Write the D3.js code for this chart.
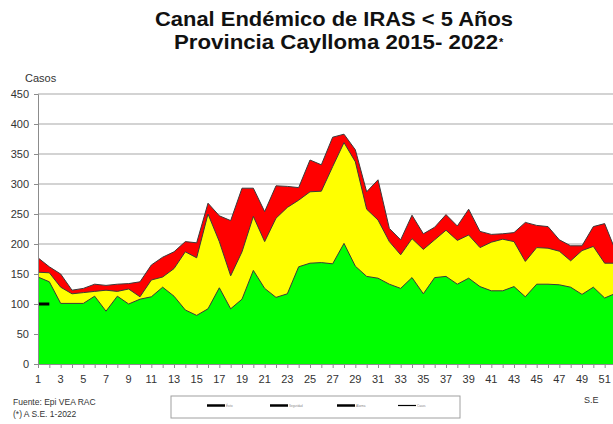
<!DOCTYPE html>
<html>
<head>
<meta charset="utf-8">
<script src="https://cdn.jsdelivr.net/npm/d3@7"></script>
<style>
  body { margin: 0; background: #fff; }
  text { font-family: Arial, "Liberation Sans", sans-serif; }
</style>
</head>
<body>
<div id="chart"></div>
<script>
// semanas epidemiologicas
var weeks = d3.range(1, 53);

// zona de alarma (limite superior)
var redVals = [177, 162, 150, 123, 126, 133, 131, 133, 134, 137,
  165, 178, 187, 204, 202, 268, 247, 239, 293, 293,
  254, 297, 296, 294, 340, 332, 378, 383, 357, 287,
  307, 226, 207, 248, 217, 228, 249, 230, 258, 221,
  216, 217, 219, 236, 231, 229, 207, 197, 197, 229,
  234, 187];
// zona de seguridad
var yellowVals = [153, 152, 128, 117, 119, 121, 123, 121, 125, 112,
  140, 145, 159, 187, 177, 250, 204, 147, 187, 246,
  204, 243, 261, 273, 287, 288, 329, 369, 337, 258,
  240, 204, 182, 209, 191, 207, 223, 206, 215, 194,
  203, 208, 204, 171, 194, 193, 188, 172, 189, 196,
  168, 168];
// zona de exito
var greenVals = [145, 137, 101, 101, 101, 113, 88, 113, 100, 108,
  112, 128, 113, 90, 81, 92, 127, 92, 108, 156,
  126, 111, 117, 162, 168, 169, 167, 201, 163, 146,
  143, 133, 126, 144, 117, 144, 146, 133, 143, 129,
  122, 122, 129, 112, 133, 133, 132, 128, 116, 128,
  110, 118];
// casos 2022
var casesWeeks = [1, 2];
var casesVals = [100, 100];

var yTicks = d3.range(0, 451, 50);
var xLabels = d3.range(1, 52, 2);
var legendNames = ["Éxito", "Seguridad", "Alarma", "Casos"];

var w = 613, h = 424;
var svg = d3.select("#chart").append("svg")
  .attr("width", w).attr("height", h);
svg.append("rect").attr("width", w).attr("height", h).attr("fill", "#fff");

var x = d3.scaleLinear().domain([1, 52]).range([38, 616]);
var y = d3.scaleLinear().domain([0, 450]).range([364, 94]);

svg.append("defs").append("clipPath").attr("id", "clip")
  .append("rect").attr("x", 38).attr("y", 80).attr("width", w - 38).attr("height", 290);

// titulo
svg.append("text").attr("x", 334).attr("y", 26).attr("text-anchor", "middle")
  .attr("font-size", 20.5).attr("font-weight", "bold").attr("fill", "#111")
  .attr("textLength", 358).attr("lengthAdjust", "spacingAndGlyphs")
  .text("Canal Endémico de IRAS < 5 Años");
var t2 = svg.append("text").attr("x", 174).attr("y", 49)
  .attr("font-size", 20.5).attr("font-weight", "bold").attr("fill", "#111");
t2.append("tspan").attr("textLength", 324).attr("lengthAdjust", "spacingAndGlyphs")
  .text("Provincia Caylloma 2015- 2022");
t2.append("tspan").attr("font-size", 11).attr("dx", 1).attr("dy", -3).text("*");

// grilla
svg.append("g").selectAll("line").data(yTicks.filter(d => d > 0)).enter().append("line")
  .attr("x1", 38).attr("x2", w).attr("y1", d => y(d)).attr("y2", d => y(d))
  .attr("stroke", "#a8a8a8").attr("stroke-width", 1.2);

// areas
var table = weeks.map((wk, i) => ({ wk: wk, r: redVals[i], yv: yellowVals[i], g: greenVals[i] }));
var layers = [["r", "#ff0000"], ["yv", "#ffff00"], ["g", "#00ff00"]];
var plot = svg.append("g").attr("clip-path", "url(#clip)");
layers.forEach(function(l) {
  var area = d3.area().x(d => x(d.wk)).y0(y(0)).y1(d => y(d[l[0]]));
  plot.append("path").datum(table).attr("d", area).attr("fill", l[1]);
});
layers.forEach(function(l) {
  var line = d3.line().x(d => x(d.wk)).y(d => y(d[l[0]]));
  plot.append("path").datum(table).attr("d", line).attr("fill", "none")
    .attr("stroke", "#3a3a3a").attr("stroke-width", 1);
});

// casos 2022
plot.append("path")
  .datum(casesWeeks.map((wk, i) => [wk, casesVals[i]]))
  .attr("d", d3.line().x(d => x(d[0])).y(d => y(d[1])))
  .attr("fill", "none").attr("stroke", "#000").attr("stroke-width", 3);

// eje y
var yAxis = svg.append("g").attr("transform", "translate(38,0)")
  .call(d3.axisLeft(y).tickValues(yTicks).tickSize(4).tickPadding(5));
yAxis.select(".domain").attr("stroke", "#8c8c8c");
yAxis.selectAll(".tick line").attr("stroke", "#8c8c8c");
yAxis.selectAll("text").attr("font-size", 11).attr("fill", "#333")
  .attr("font-family", "Arial, 'Liberation Sans', sans-serif");
svg.append("text").attr("x", 25).attr("y", 82).attr("font-size", 11).attr("fill", "#333").text("Casos");

// eje x
var xAxis = svg.append("g").attr("transform", "translate(0,364)")
  .call(d3.axisBottom(x).tickValues(weeks).tickSize(4).tickFormat(""));
xAxis.select(".domain").attr("stroke", "#8c8c8c");
xAxis.selectAll(".tick line").attr("stroke", "#8c8c8c");
svg.append("g").selectAll("text").data(xLabels).enter().append("text")
  .attr("x", d => x(d)).attr("y", 383).attr("text-anchor", "middle")
  .attr("font-size", 11).attr("fill", "#333").text(d => d);
svg.append("text").attr("x", 584).attr("y", 403).attr("font-size", 9).attr("fill", "#333").text("S.E");

// fuente
svg.append("text").attr("x", 13).attr("y", 405).attr("font-size", 8.5).attr("fill", "#333").text("Fuente: Epi VEA RAC");
svg.append("text").attr("x", 13).attr("y", 417).attr("font-size", 8.5).attr("fill", "#333").text("(*) A S.E. 1-2022");

// leyenda
var leg = svg.append("g");
leg.append("rect").attr("x", 171).attr("y", 396).attr("width", 289).attr("height", 22)
  .attr("fill", "#fff").attr("stroke", "#a0a0a0").attr("stroke-width", 1);
var legX = [207, 270, 337, 398];
legendNames.forEach(function(n, i) {
  leg.append("line").attr("x1", legX[i]).attr("x2", legX[i] + 18).attr("y1", 405.5).attr("y2", 405.5)
    .attr("stroke", "#000").attr("stroke-width", i < 3 ? 2.5 : 1.2);
  leg.append("text").attr("x", legX[i] + 19).attr("y", 406.5).attr("font-size", 3).attr("fill", "#888").text(n);
});
</script>
</body>
</html>
